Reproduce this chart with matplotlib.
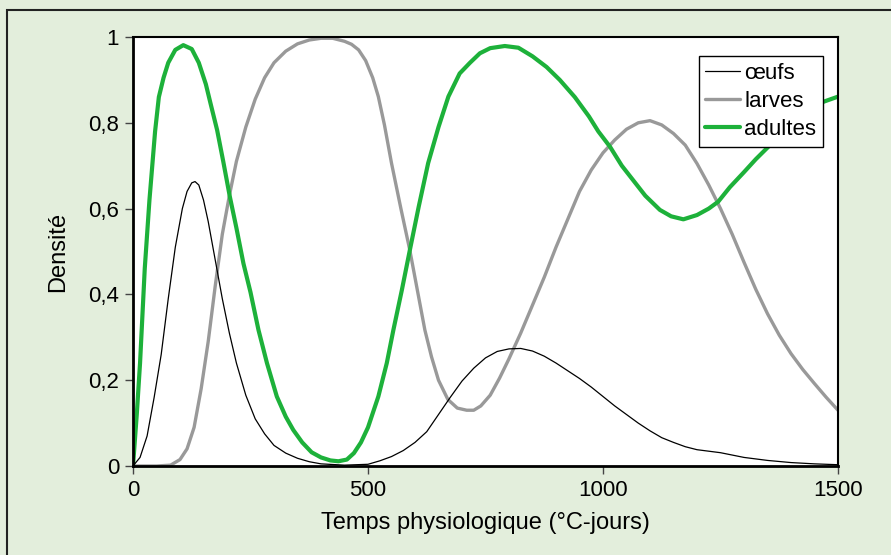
import matplotlib
matplotlib.use("Agg")
import matplotlib.pyplot as plt
from matplotlib.patches import Rectangle
from matplotlib.ticker import FuncFormatter

plt.rcParams['font.family'] = ['Liberation Sans', 'DejaVu Sans']

# ---- data ----
t_oeufs = [0, 15, 30, 45, 60, 75, 90, 105, 115, 125, 132, 140, 150, 160, 175, 190,
           205, 220, 240, 260, 280, 300, 325, 350, 375, 400, 450, 500, 525, 550,
           575, 600, 625, 650, 675, 700, 725, 750, 775, 800, 825, 850, 875, 900,
           925, 950, 975, 1000, 1025, 1050, 1075, 1100, 1125, 1150, 1175, 1200,
           1250, 1300, 1350, 1400, 1450, 1500]
oeufs = [0, 0.02, 0.07, 0.16, 0.26, 0.39, 0.51, 0.60, 0.64, 0.66, 0.663, 0.655,
         0.62, 0.57, 0.48, 0.39, 0.31, 0.24, 0.165, 0.11, 0.075, 0.048, 0.03,
         0.018, 0.01, 0.005, 0.002, 0.004, 0.012, 0.022, 0.036, 0.055, 0.08,
         0.12, 0.16, 0.198, 0.228, 0.252, 0.267, 0.273, 0.274, 0.268, 0.256,
         0.24, 0.222, 0.204, 0.184, 0.162, 0.14, 0.12, 0.1, 0.082, 0.066, 0.055,
         0.045, 0.038, 0.031, 0.02, 0.013, 0.008, 0.005, 0.003]

t_larves = [0, 50, 80, 100, 115, 130, 145, 160, 175, 190, 205, 220, 240, 260, 280,
            300, 325, 350, 375, 400, 425, 450, 465, 480, 495, 510, 522, 535, 550,
            570, 589, 605, 621, 635, 650, 670, 690, 710, 725, 740, 760, 780, 800,
            825, 850, 875, 900, 925, 950, 975, 1000, 1025, 1050, 1075, 1100, 1125,
            1150, 1175, 1200, 1225, 1250, 1275, 1300, 1325, 1350, 1375, 1400,
            1425, 1450, 1475, 1500]
larves = [0, 0, 0.002, 0.015, 0.04, 0.09, 0.18, 0.29, 0.42, 0.54, 0.63, 0.71,
          0.79, 0.855, 0.905, 0.94, 0.967, 0.984, 0.993, 0.997, 0.997, 0.99,
          0.983, 0.97, 0.945, 0.905, 0.861, 0.795, 0.706, 0.60, 0.503, 0.41,
          0.317, 0.255, 0.20, 0.155, 0.135, 0.13, 0.13, 0.14, 0.165, 0.205, 0.25,
          0.31, 0.375, 0.44, 0.51, 0.575, 0.64, 0.69, 0.73, 0.76, 0.785, 0.8,
          0.805, 0.795, 0.775, 0.748, 0.705, 0.655, 0.6, 0.54, 0.475, 0.412,
          0.355, 0.305, 0.262, 0.225, 0.192, 0.16, 0.13]

t_adultes = [0, 8, 15, 25, 35, 47, 55, 65, 75, 90, 107, 125, 140, 155, 165, 179,
             192, 206, 220, 235, 250, 267, 285, 306, 325, 341, 360, 380, 400, 420,
             437, 455, 470, 485, 500, 522, 540, 554, 572, 589, 608, 628, 650, 671,
             695, 717, 738, 760, 791, 820, 850, 880, 908, 940, 970, 990, 1015,
             1040, 1065, 1090, 1121, 1145, 1171, 1200, 1225, 1245, 1270, 1300,
             1325, 1348, 1375, 1400, 1425, 1450, 1469, 1500]
adultes = [0, 0.12, 0.24, 0.46, 0.62, 0.78, 0.86, 0.905, 0.94, 0.97, 0.981,
           0.972, 0.94, 0.89, 0.845, 0.783, 0.71, 0.628, 0.555, 0.472, 0.405,
           0.317, 0.24, 0.162, 0.115, 0.084, 0.055, 0.032, 0.02, 0.013, 0.011,
           0.015, 0.03, 0.055, 0.09, 0.162, 0.24, 0.317, 0.41, 0.503, 0.605,
           0.706, 0.79, 0.861, 0.915, 0.94, 0.962, 0.974, 0.979, 0.975, 0.955,
           0.93, 0.9, 0.86, 0.815, 0.78, 0.744, 0.7, 0.665, 0.63, 0.597, 0.582,
           0.575, 0.585, 0.6, 0.616, 0.65, 0.685, 0.715, 0.74, 0.77, 0.795,
           0.815, 0.835, 0.849, 0.861]

x_ticks = [0, 500, 1000, 1500]
y_ticks = [0, 0.2, 0.4, 0.6, 0.8, 1.0]

# ---- figure ----
BG = '#E3EEDC'
FS = 16
fig = plt.figure(figsize=(8.91, 5.55), dpi=100)
fig.patch.set_facecolor(BG)
fig.patches.append(Rectangle((7 / 891, -0.05), 1.1, 1 - 10 / 555 + 0.05,
                             transform=fig.transFigure, fill=False,
                             edgecolor='#222222', linewidth=1.5, zorder=0))

ax = fig.add_axes([133 / 891, 1 - 466 / 555, 705 / 891, 429 / 555])
ax.set_facecolor('white')

kw = dict(solid_joinstyle='round', solid_capstyle='round')
ax.plot(t_oeufs, oeufs, color='black', lw=0.9, label='œufs', zorder=3, **kw)
ax.plot(t_larves, larves, color='#999999', lw=2.4, label='larves', zorder=2, **kw)
ax.plot(t_adultes, adultes, color='#1DB13A', lw=3.0, label='adultes', zorder=2.5, **kw)

ax.set_xlim(0, 1500)
ax.set_ylim(0, 1)
ax.set_xticks(x_ticks)
ax.set_yticks(y_ticks)
ax.yaxis.set_major_formatter(FuncFormatter(
    lambda v, p: ('%g' % round(v, 1)).replace('.', ',')))
ax.tick_params(direction='out', length=6, width=1, color='#444444',
               labelsize=FS, pad=4)

for s in ['left', 'bottom']:
    ax.spines[s].set_linewidth(2)
for s in ['top', 'right']:
    ax.spines[s].set_linewidth(1.5)
for s in ax.spines.values():
    s.set_color('black')

ax.set_xlabel('Temps physiologique (°C-jours)', fontsize=17, labelpad=8)
ax.set_ylabel('Densité', fontsize=17, labelpad=14)

leg = ax.legend(loc='upper right', bbox_to_anchor=(823 / 891, 1 - 56 / 555),
                bbox_transform=fig.transFigure, frameon=True, fancybox=False,
                fontsize=FS, handlelength=1.55, handletextpad=0.2,
                borderpad=0.3, labelspacing=0.32, borderaxespad=0)
leg.get_frame().set_edgecolor('black')
leg.get_frame().set_linewidth(1)
leg.get_frame().set_facecolor('white')
leg.get_frame().set_alpha(1)
leg.set_zorder(10)

fig.savefig('out.png', dpi=100, facecolor=BG)
